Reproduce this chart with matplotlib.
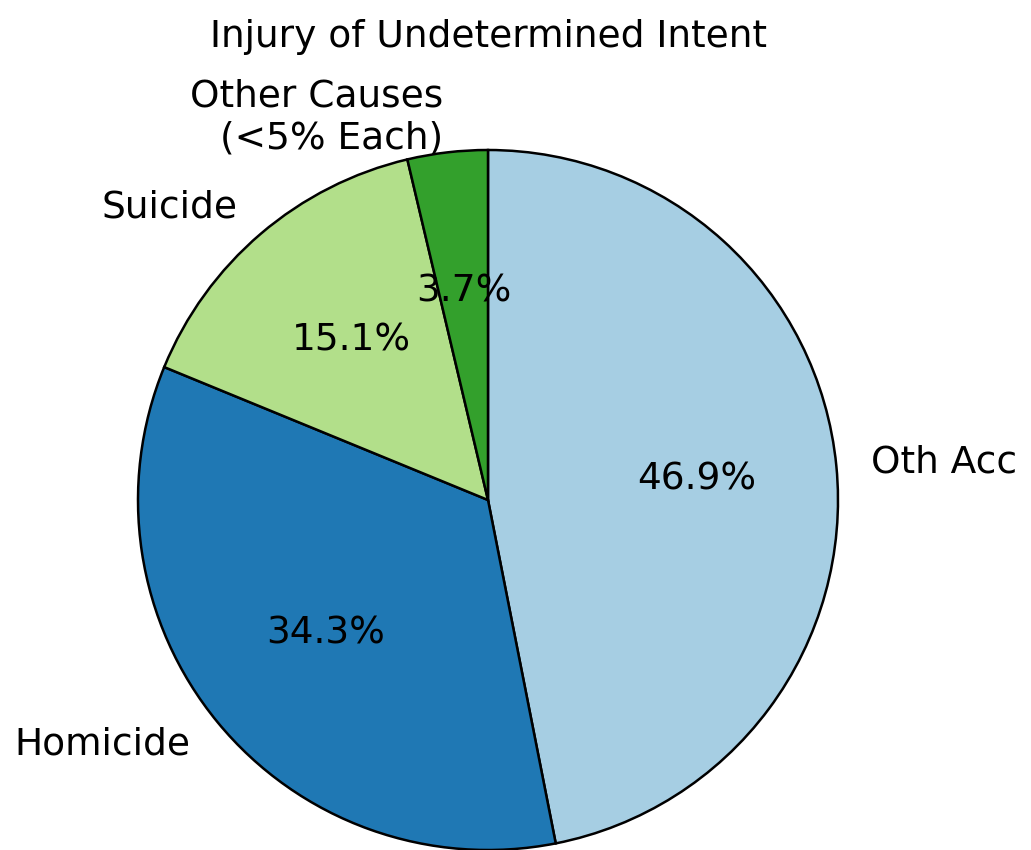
import matplotlib
matplotlib.use("Agg")
import matplotlib.pyplot as plt

# data
labels = ["Oth Acc", "Homicide", "Suicide", "Other Causes\n(<5% Each)"]
shares = [46.9, 34.3, 15.1, 3.7]
colors = ["#a6cee3", "#1f78b4", "#b2df8a", "#33a02c"]

fig = plt.figure(figsize=(10.31, 8.5), dpi=100)
ax = fig.add_axes([50.5 / 1031, -87.5 / 850, 875 / 1031, 875 / 850])

ax.pie(
    shares,
    labels=labels,
    colors=colors,
    autopct="%1.1f%%",
    startangle=90,
    counterclock=False,
    wedgeprops={"edgecolor": "black", "linewidth": 1.8},
    textprops={"fontsize": 27},
)
ax.set_aspect("equal")

fig.text(488 / 1031, 1 - 37 / 850, "Injury of Undetermined Intent",
         ha="center", va="center", fontsize=27)

fig.savefig("out.png", dpi=100)
